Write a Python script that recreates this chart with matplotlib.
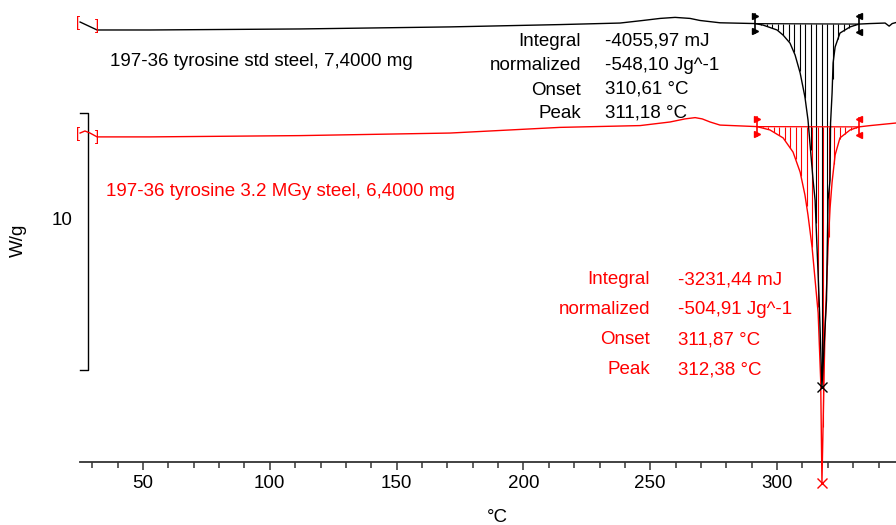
import numpy as np
import matplotlib
matplotlib.use('Agg')
import matplotlib.pyplot as plt

plt.rcParams['font.family'] = ['Liberation Sans', 'DejaVu Sans']

# DSC traces, temperature in degC and heat flow in W/g (stacked offsets)
temp_std = [25.2, 31.9, 52.8, 111.9, 171.1, 214.4, 238.1, 247.1, 253.9, 259.8,
            265.7, 269.6, 277.5, 291.3, 294.5, 300.0, 302.4, 305.1, 307.1, 309.1,
            311.0, 312.2, 314.2, 315.0, 316.6, 317.7, 319.5, 320.1, 320.9, 321.1,
            321.7, 322.1, 322.9, 324.8, 328.8, 332.3, 336.7, 342.6, 344.2, 345.4, 346.9]
wg_std = [17.12, 16.81, 16.81, 16.85, 16.93, 17.02, 17.08, 17.18, 17.26, 17.30,
          17.26, 17.18, 17.09, 17.06, 17.00, 16.81, 16.61, 16.30, 15.84, 15.14,
          14.20, 13.31, 10.97, 10.19, 6.30, 2.92, 6.30, 10.19, 10.97, 13.19,
          14.36, 15.53, 16.15, 16.69, 16.93, 17.04, 17.06, 17.08, 16.96, 17.06, 17.10]

temp_irr = [25.2, 27.1, 29.1, 31.9, 52.8, 111.9, 171.1, 214.4, 246.0, 257.8,
            263.7, 267.7, 270.5, 273.6, 277.5, 292.1, 297.2, 302.4, 306.3, 309.1,
            311.0, 312.2, 313.8, 316.2, 317.2, 317.7, 318.9, 320.1, 320.9, 321.7,
            322.9, 324.8, 328.8, 332.3, 336.7, 346.9]
wg_irr = [12.80, 12.88, 12.80, 12.65, 12.65, 12.70, 12.80, 13.02, 13.09, 13.23,
          13.35, 13.40, 13.35, 13.23, 13.11, 13.05, 12.92, 12.61, 12.06, 11.28,
          10.39, 9.61, 8.37, 5.80, 3.19, -0.82, 5.14, 8.37, 9.88, 10.89,
          11.95, 12.61, 12.92, 13.04, 13.09, 13.19]

limits_std = (291.5, 332.3)
limits_irr = (292.1, 332.3)
peak_std = (317.7, 2.92)
peak_irr = (317.7, -0.82)

labels = ['Integral', 'normalized', 'Onset', 'Peak']
values_std = ['-4055,97 mJ', '-548,10 Jg^-1', '310,61 °C', '311,18 °C']
values_irr = ['-3231,44 mJ', '-504,91 Jg^-1', '311,87 °C', '312,38 °C']

major_ticks = [50, 100, 150, 200, 250, 300]
minor_ticks = [t for t in range(30, 350, 10) if t not in major_ticks]

W, H = 896, 525
fig = plt.figure(figsize=(W / 100, H / 100), dpi=100)
ax = fig.add_axes([80 / W, 63 / H, 816 / W, 462 / H])
ax.set_xlim(25.16, 346.9)
ax.set_ylim(0, 462 / 25.7)

FS = 13.5


def ftext(px, py, s, **kw):
    fig.text(px / W, 1 - py / H, s, fontsize=FS, va='center', **kw)


def integral_region(t, w, lim, color):
    t0, t1 = lim
    b0, b1 = np.interp(t0, t, w), np.interp(t1, t, w)
    ax.plot([t0, t1], [b0, b1], color=color, lw=0.9, zorder=3)
    xs = np.arange(t0 + 2.17, t1 - 0.5, 2.17)
    base = b0 + (b1 - b0) * (xs - t0) / (t1 - t0)
    ax.vlines(xs, np.interp(xs, t, w), base, color=color, lw=0.8, zorder=2,
              clip_on=False)
    for tx, bx, mk in [(t0, b0, '>'), (t1, b1, '<')]:
        ax.plot([tx, tx], [bx - 0.36, bx + 0.36], color=color, lw=1.2, zorder=4)
        ax.plot([tx, tx], [bx - 0.3, bx + 0.3], ls='none', marker=mk, ms=4,
                color=color, zorder=4)


ax.plot(temp_irr, wg_irr, color='red', lw=1.0, zorder=3, clip_on=False)
integral_region(temp_irr, wg_irr, limits_irr, 'red')
ax.plot(temp_std, wg_std, color='black', lw=1.0, zorder=3, clip_on=False)
integral_region(temp_std, wg_std, limits_std, 'black')

ax.plot(*peak_std, marker='x', ms=7, color='black', mew=1.0, zorder=5)
ax.plot(*peak_irr, marker='x', ms=7, color='red', mew=1.0, zorder=5, clip_on=False)

# start brackets
for w0 in (wg_std[0], wg_irr[0]):
    ax.text(24.2, w0 - 0.05, '[', color='red', fontsize=10.5, ha='center', va='center')
    ax.text(31.8, w0 - 0.15, ']', color='red', fontsize=10.5, ha='center', va='center')

# 10 W/g scale bar
ax.plot([25.2, 28.3, 28.3, 25.2], [13.58, 13.58, 3.58, 3.58], color='black',
        lw=1.0, clip_on=False)
ftext(62, 220, '10', ha='center')
fig.text(18 / W, 1 - 240 / H, 'W/g', fontsize=FS, rotation=90, ha='center', va='center')
ftext(497, 517, '°C', ha='center')

# annotations
ftext(110, 62, '197-36 tyrosine std steel, 7,4000 mg')
ftext(106, 192, '197-36 tyrosine 3.2 MGy steel, 6,4000 mg', color='red')
for i, (lab, val) in enumerate(zip(labels, values_std)):
    ftext(581, 42 + 24 * i, lab, ha='right')
    ftext(605, 41 + 24 * i, val, ha='left')
for i, (lab, val) in enumerate(zip(labels, values_irr)):
    ftext(650, 280 + 30 * i, lab, ha='right', color='red')
    ftext(678, 280 + 30 * i, val, ha='left', color='red')

for s in ('left', 'top', 'right'):
    ax.spines[s].set_visible(False)
ax.spines['bottom'].set_linewidth(1.3)
ax.spines['bottom'].set_color('#333333')
ax.set_xticks(major_ticks)
ax.set_xticks(minor_ticks, minor=True)
ax.tick_params(axis='x', which='major', length=6, width=1.1, color='#333333',
               labelsize=FS, pad=3)
ax.tick_params(axis='x', which='minor', length=4, width=1.1, color='#333333')
ax.tick_params(axis='y', left=False, labelleft=False)

fig.savefig('out.png', dpi=100)
